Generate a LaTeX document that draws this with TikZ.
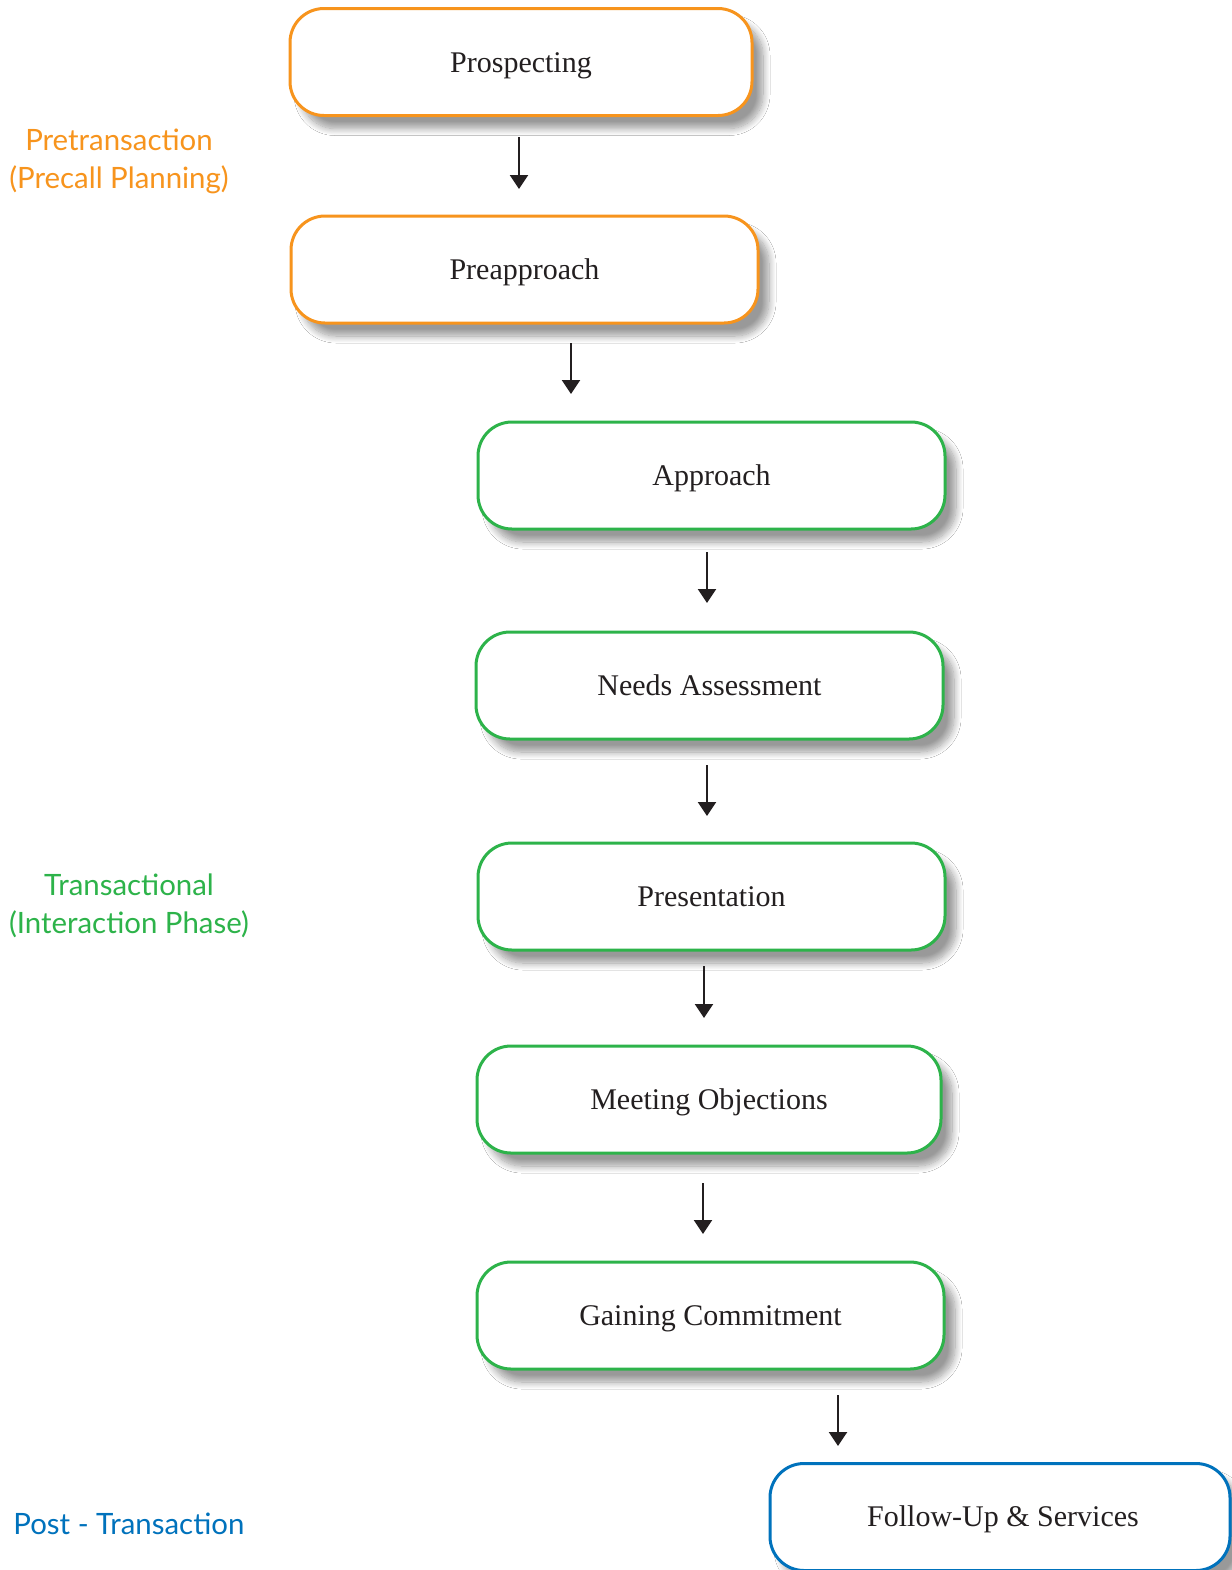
\documentclass[tikz,border=0pt]{standalone}
\usepackage{fontspec}
\setmainfont{Liberation Serif}
\newfontfamily\phasefont{Lato}
\usetikzlibrary{shadows.blur,arrows.meta}
\definecolor{prephase}{HTML}{F7941D}
\definecolor{transphase}{HTML}{2DB34A}
\definecolor{postphase}{HTML}{0072BC}
\definecolor{ink}{HTML}{231F20}

\begin{document}
\begin{tikzpicture}[x=0.5pt,y=-0.5pt,
  stage/.style={draw, line width=1.5pt, rounded corners=17pt, fill=white,
    minimum height=53.5pt, inner sep=0pt, text=ink,
    text height=11pt, text depth=1pt,
    font=\fontsize{15}{18}\selectfont,
    blur shadow={shadow xshift=5.5pt, shadow yshift=-6.5pt,
      shadow blur radius=3.5pt, shadow blur steps=12, shadow opacity=40}},
  prestage/.style={stage, draw=prephase},
  transstage/.style={stage, draw=transphase},
  poststage/.style={stage, draw=postphase},
  flow/.style={-{Triangle[length=7pt,width=9pt]}, line width=1.2pt, draw=ink},
  phase/.style={font=\phasefont\fontsize{14.7}{19}\selectfont, align=center, inner sep=0pt}]

  % page area
  \clip (0,0) rectangle (1232,1570);
  \fill[white] (0,0) rectangle (1232,1570);

  % stages
  \node[prestage, minimum width=231pt] (prosp) at (521,62) {Prospecting};
  \node[prestage, minimum width=233.5pt] (preap) at (524.5,269.5) {Preapproach};
  \node[transstage, minimum width=233.5pt] (appr) at (711.5,475.5) {Approach};
  \node[transstage, minimum width=233.5pt] (needs) at (709.5,685.5) {Needs Assessment};
  \node[transstage, minimum width=233.5pt] (pres) at (711.5,896.5) {Presentation};
  \node[transstage, minimum width=232pt] (meet) at (709,1099.5) {Meeting Objections};
  \node[transstage, minimum width=233.5pt] (gain) at (710.5,1315.5) {Gaining Commitment};
  \node[poststage, minimum width=230pt] (follow) at (1000,1517) {};
  \node[text=ink, font=\fontsize{15}{18}\selectfont, text height=11pt, text depth=1pt,
        inner sep=0pt] (followtxt) at (1003,1516) {Follow-Up \& Services};

  % arrow end points
  \coordinate (a1s) at (519,137);  \coordinate (a1e) at (519,189);
  \coordinate (a2s) at (571,343);  \coordinate (a2e) at (571,394);
  \coordinate (a3s) at (707,552);  \coordinate (a3e) at (707,603);
  \coordinate (a4s) at (707,765);  \coordinate (a4e) at (707,816);
  \coordinate (a5s) at (704,966);  \coordinate (a5e) at (704,1018);
  \coordinate (a6s) at (703,1183); \coordinate (a6e) at (703,1234);
  \coordinate (a7s) at (838,1395); \coordinate (a7e) at (838,1446);

  \foreach \i in {1,...,7} \draw[flow] (a\i s) -- (a\i e);

  % phase labels
  \node[phase, text=prephase] (prelabel) at (119,161) {Pretransaction\\(Precall Planning)};
  \node[phase, text=transphase] (translabel) at (129,906) {Transactional\\(Interaction Phase)};
  \node[phase, text=postphase, anchor=west] (postlabel) at (13,1524) {Post - Transaction};
\end{tikzpicture}
\end{document}
